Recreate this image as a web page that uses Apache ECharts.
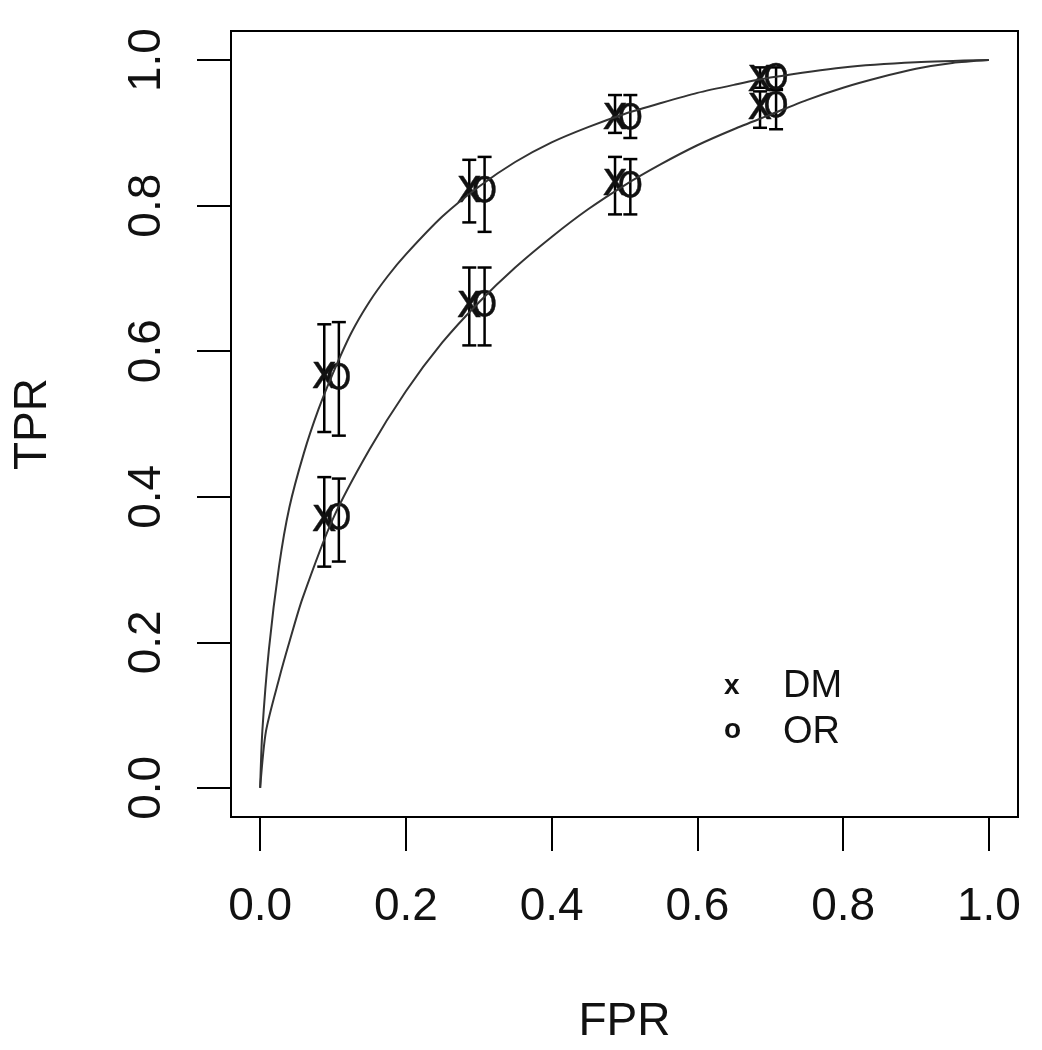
<!DOCTYPE html>
<html>
<head>
<meta charset="utf-8">
<script src="https://cdn.jsdelivr.net/npm/echarts@6.0.0/dist/echarts.min.js"></script>
<style>
  html, body { margin: 0; padding: 0; background: #fff; }
  #chart { width: 1042px; height: 1050px; }
</style>
</head>
<body>
<div id="chart"></div>
<script>
// tick labels
const tickValues = [0, 0.2, 0.4, 0.6, 0.8, 1.0]

// fitted ROC curves
const upperCurveX = [0, 0.003, 0.012, 0.026, 0.04, 0.06, 0.08, 0.1, 0.125, 0.15, 0.175, 0.2, 0.25, 0.3, 0.35, 0.4, 0.45, 0.5, 0.55, 0.6, 0.65, 0.7, 0.8, 0.9, 1]
const upperCurveY = [0, 0.078, 0.19, 0.305, 0.385, 0.46, 0.52, 0.57, 0.625, 0.668, 0.703, 0.733, 0.785, 0.826, 0.86, 0.887, 0.908, 0.926, 0.941, 0.955, 0.966, 0.976, 0.99, 0.997, 1]
const lowerCurveX = [0, 0.008, 0.026, 0.04, 0.058, 0.1, 0.15, 0.2, 0.25, 0.3, 0.35, 0.4, 0.45, 0.5, 0.55, 0.6, 0.65, 0.7, 0.75, 0.8, 0.85, 0.9, 0.95, 1]
const lowerCurveY = [0, 0.078, 0.15, 0.2, 0.26, 0.37, 0.465, 0.545, 0.612, 0.667, 0.715, 0.757, 0.795, 0.828, 0.857, 0.883, 0.905, 0.925, 0.945, 0.962, 0.976, 0.988, 0.996, 1]

// DM points (x marker)
const dmX = [0.088, 0.287, 0.487, 0.686]
const dmUpper = [0.566, 0.822, 0.922, 0.975]
const dmUpperLo = [0.489, 0.777, 0.9, 0.962]
const dmUpperHi = [0.637, 0.863, 0.952, 0.99]
const dmLower = [0.37, 0.664, 0.832, 0.936]
const dmLowerLo = [0.304, 0.608, 0.788, 0.907]
const dmLowerHi = [0.427, 0.715, 0.867, 0.957]

// OR points (o marker)
const orX = [0.108, 0.308, 0.508, 0.708]
const orUpper = [0.562, 0.819, 0.92, 0.975]
const orUpperLo = [0.484, 0.764, 0.893, 0.96]
const orUpperHi = [0.64, 0.867, 0.952, 0.99]
const orLower = [0.37, 0.662, 0.826, 0.936]
const orLowerLo = [0.311, 0.608, 0.788, 0.905]
const orLowerHi = [0.425, 0.715, 0.864, 0.959]

const FONT = 'Liberation Sans, Arial, sans-serif'
const GLYPH_FONT = '"Liberation Sans Narrow", "DejaVu Sans Condensed", ' + FONT

function zip (xs, ys) {
  return xs.map((x, i) => [x, ys[i]])
}
function bars (xs, lo, hi) {
  return xs.map((x, i) => [x, lo[i], hi[i]])
}

// 误差线
function renderBar (params, api) {
  const top = api.coord([api.value(0), api.value(2)])
  const bot = api.coord([api.value(0), api.value(1)])
  const hw = 7
  const style = { stroke: '#000', lineWidth: 2.5 }
  return {
    type: 'group',
    children: [
      { type: 'line', shape: { x1: top[0], y1: top[1], x2: bot[0], y2: bot[1] }, style },
      { type: 'line', shape: { x1: top[0] - hw, y1: top[1], x2: top[0] + hw, y2: top[1] }, style },
      { type: 'line', shape: { x1: bot[0] - hw, y1: bot[1], x2: bot[0] + hw, y2: bot[1] }, style }
    ]
  }
}

function glyphRenderer (ch, size, dy) {
  return function (params, api) {
    const p = api.coord([api.value(0), api.value(1)])
    return {
      type: 'text',
      x: p[0],
      y: p[1] + dy,
      style: {
        text: ch,
        font: size + 'px ' + GLYPH_FONT,
        fill: '#111',
        stroke: '#111',
        lineWidth: 0.4,
        align: 'center',
        verticalAlign: 'middle'
      }
    }
  }
}

const axisCommon = {
  type: 'value',
  min: -0.04,
  max: 1.04,
  splitLine: { show: false },
  axisLine: { show: false, onZero: false },
  axisTick: { show: true, inside: false, length: 34, customValues: tickValues, lineStyle: { color: '#000', width: 2 } },
  axisLabel: {
    customValues: tickValues,
    formatter: v => v.toFixed(1),
    fontFamily: FONT,
    fontSize: 46,
    color: '#111',
    margin: 67
  },
  nameLocation: 'middle',
  nameTextStyle: { fontFamily: FONT, fontSize: 46, color: '#111' }
}

const option = {
  animation: false,
  backgroundColor: '#fff',
  grid: {
    left: 231,
    right: 24,
    top: 31,
    bottom: 231,
    show: true,
    borderColor: '#000',
    borderWidth: 2
  },
  xAxis: Object.assign({}, axisCommon, {
    name: 'FPR',
    nameGap: 182
  }),
  yAxis: Object.assign({}, axisCommon, {
    name: 'TPR',
    nameGap: 175,
    axisLabel: Object.assign({}, axisCommon.axisLabel, { rotate: 90, margin: 61 })
  }),
  series: [
    { type: 'line', data: zip(upperCurveX, upperCurveY), smooth: 0.25, showSymbol: false, lineStyle: { color: '#333', width: 2 } },
    { type: 'line', data: zip(lowerCurveX, lowerCurveY), smooth: 0.25, showSymbol: false, lineStyle: { color: '#333', width: 2 } },
    { type: 'custom', renderItem: renderBar, data: bars(dmX, dmUpperLo, dmUpperHi), encode: { x: 0, y: [1, 2] } },
    { type: 'custom', renderItem: renderBar, data: bars(dmX, dmLowerLo, dmLowerHi), encode: { x: 0, y: [1, 2] } },
    { type: 'custom', renderItem: renderBar, data: bars(orX, orUpperLo, orUpperHi), encode: { x: 0, y: [1, 2] } },
    { type: 'custom', renderItem: renderBar, data: bars(orX, orLowerLo, orLowerHi), encode: { x: 0, y: [1, 2] } },
    { name: 'DM', type: 'custom', renderItem: glyphRenderer('x', 48, 0), data: zip(dmX, dmUpper).concat(zip(dmX, dmLower)), encode: { x: 0, y: 1 } },
    { name: 'OR', type: 'custom', renderItem: glyphRenderer('O', 36, 1), data: zip(orX, orUpper).concat(zip(orX, orLower)), encode: { x: 0, y: 1 } }
  ],
  // 图例
  graphic: [
    { type: 'text', left: 724, top: 672, style: { text: 'x', font: 'bold 28px ' + FONT, fill: '#111' } },
    { type: 'text', left: 724, top: 716, style: { text: 'o', font: 'bold 28px ' + FONT, fill: '#111' } },
    { type: 'text', left: 783, top: 668, style: { text: 'DM', font: '38px ' + FONT, fill: '#111' } },
    { type: 'text', left: 783, top: 714, style: { text: 'OR', font: '38px ' + FONT, fill: '#111' } }
  ]
}

const myChart = echarts.init(document.getElementById('chart'))
myChart.setOption(option)
</script>
</body>
</html>
